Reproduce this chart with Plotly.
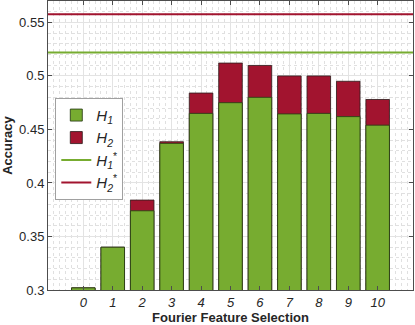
import plotly.graph_objects as go

selection = list(range(11))
h1_acc = [0.302, 0.340, 0.374, 0.437, 0.465, 0.475, 0.480, 0.4645, 0.465, 0.462, 0.454]
h2_acc = [0.302, 0.340, 0.384, 0.4385, 0.484, 0.512, 0.5098, 0.500, 0.500, 0.495, 0.478]
h1_star = 0.522
h2_star = 0.5577
y_ticks = [0.3, 0.35, 0.4, 0.45, 0.5, 0.55]

GREEN = "#77AC30"
RED = "#A2142F"
XR = [-1.2, 11.2]
font = "Liberation Sans, Arial, sans-serif"

fig = go.Figure()
# H2 drawn behind, H1 in front (overlay)
fig.add_trace(go.Bar(x=selection, y=h2_acc, name="<i>H</i><sub><i>2</i></sub>", marker=dict(color=RED, line=dict(color="rgba(50,30,30,0.85)", width=1)),
                     width=0.8, legendrank=2))
fig.add_trace(go.Bar(x=selection, y=h1_acc, name="<i>H</i><sub><i>1</i></sub>", marker=dict(color=GREEN, line=dict(color="rgba(40,60,20,0.85)", width=1)),
                     width=0.8, legendrank=1))
fig.add_trace(go.Scatter(x=XR, y=[h1_star, h1_star], mode="lines", line=dict(color=GREEN, width=2),
                         name="<i>H</i><sub><i>1</i></sub><sup>*</sup>", legendrank=3))
fig.add_trace(go.Scatter(x=XR, y=[h2_star, h2_star], mode="lines", line=dict(color=RED, width=2),
                         name="<i>H</i><sub><i>2</i></sub><sup>*</sup>", legendrank=4))

axis_common = dict(showline=True, linecolor="#4d4d4d", linewidth=1, mirror="allticks", ticks="inside", ticklen=4,
                   tickcolor="#4d4d4d", gridcolor="#e3e3e3", gridwidth=1, zeroline=False,
                   tickfont=dict(family=font, size=13, color="#262626"))

fig.update_layout(
    width=415, height=325, barmode="overlay",
    margin=dict(l=48, r=2, t=1, b=35),
    paper_bgcolor="white", plot_bgcolor="white",
    font=dict(family=font, color="#262626"),
    xaxis=dict(axis_common, range=XR, tickmode="array", tickvals=selection,
               ticktext=[f"<i>{s}</i>" for s in selection],
               minor=dict(dtick=0.2, tick0=0, showgrid=True, griddash="dot", gridcolor="#e0e0e0", ticklen=0),
               title=dict(text="<b>Fourier Feature Selection</b>", font=dict(size=13, family=font), standoff=2)),
    yaxis=dict(axis_common, range=[0.3, 0.57], tickmode="array", tickvals=y_ticks, ticktext=[f"{v:g}" for v in y_ticks],
               minor=dict(dtick=0.01, tick0=0.3, showgrid=True, griddash="dot", gridcolor="#e0e0e0", ticklen=0),
               title=dict(text="<b>Accuracy</b>", font=dict(size=13, family=font), standoff=4)),
    legend=dict(x=0.02, y=0.665, xanchor="left", yanchor="top", bgcolor="white", bordercolor="#a0a0a0", borderwidth=1,
                font=dict(size=15, family=font), traceorder="normal", itemwidth=30, tracegroupgap=2),
    showlegend=True,
)

fig.write_html("out.html", config={"displayModeBar": False},
               post_script="document.body.style.margin='0';document.body.style.overflow='hidden';")
